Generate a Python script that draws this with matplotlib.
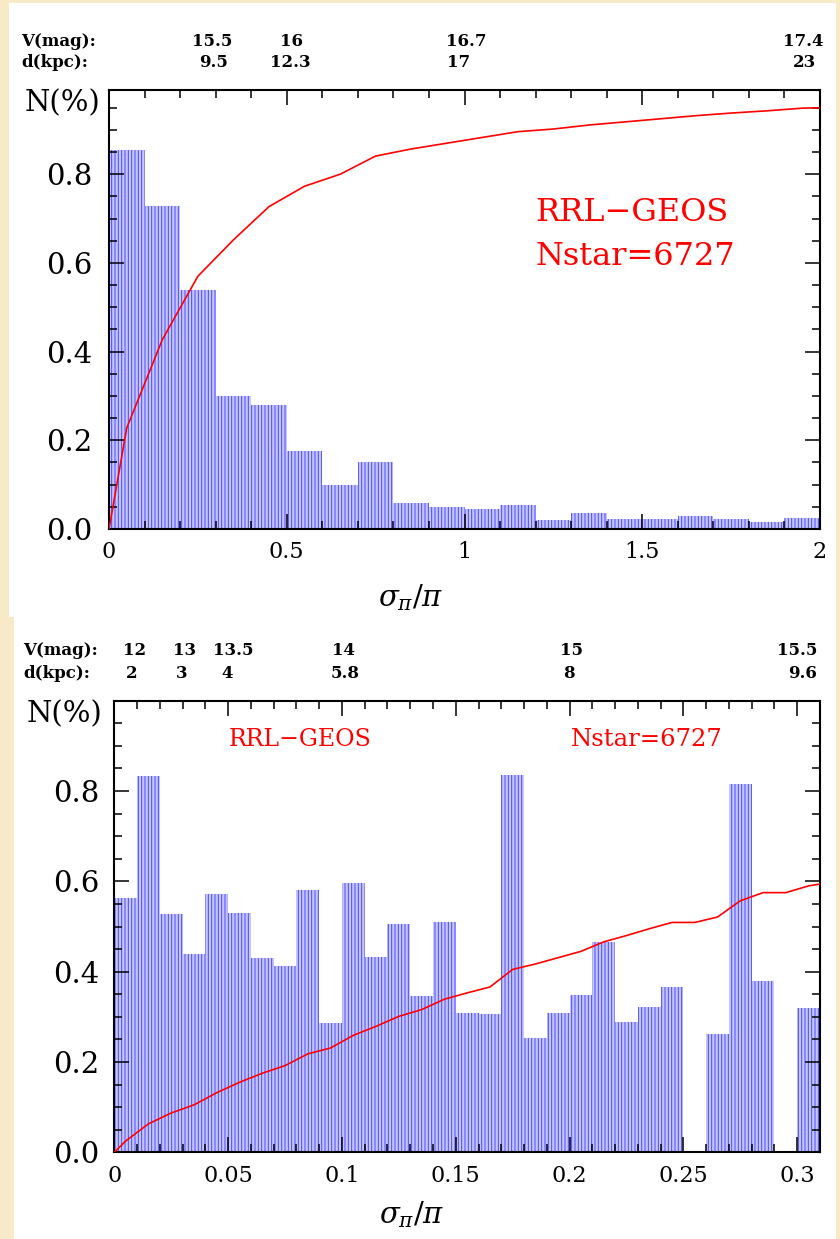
import numpy as np
import matplotlib
matplotlib.use("Agg")
import matplotlib.pyplot as plt
from matplotlib.patches import Rectangle
from matplotlib.ticker import MultipleLocator
from matplotlib.transforms import blended_transform_factory

# ---- data ----
# top panel: sigma_pi/pi from 0 to 2, bins of 0.1
top_edges = [0.0, 0.1, 0.2, 0.3, 0.4, 0.5, 0.6, 0.7, 0.8, 0.9, 1.0,
             1.1, 1.2, 1.3, 1.4, 1.5, 1.6, 1.7, 1.8, 1.9, 2.0]
top_hist = [0.855, 0.728, 0.538, 0.301, 0.279, 0.177, 0.099, 0.151, 0.058, 0.050,
            0.045, 0.054, 0.020, 0.037, 0.023, 0.022, 0.029, 0.022, 0.016, 0.024]
top_cum_x = [0.0, 0.05, 0.15, 0.25, 0.35, 0.45, 0.55, 0.65, 0.75, 0.85, 0.95,
             1.05, 1.15, 1.25, 1.35, 1.45, 1.55, 1.65, 1.75, 1.85, 1.95, 2.0]
top_cum_y = [0.0, 0.228, 0.427, 0.570, 0.652, 0.727, 0.773, 0.800, 0.841, 0.857, 0.870,
             0.883, 0.896, 0.902, 0.911, 0.918, 0.925, 0.932, 0.938, 0.943, 0.949, 0.950]

# bottom panel: sigma_pi/pi from 0 to 0.31, bins of 0.01
bot_edges = [round(0.01 * i, 2) for i in range(32)]
bot_hist = [0.564, 0.834, 0.527, 0.438, 0.573, 0.530, 0.430, 0.413, 0.581, 0.286,
            0.596, 0.432, 0.506, 0.345, 0.511, 0.309, 0.306, 0.835, 0.252, 0.309,
            0.348, 0.465, 0.289, 0.321, 0.365, 0.0, 0.262, 0.815, 0.379, 0.0, 0.319]
bot_cum_x = [0.0, 0.005, 0.015, 0.025, 0.035, 0.045, 0.055, 0.065, 0.075, 0.085, 0.095,
             0.105, 0.115, 0.125, 0.135, 0.145, 0.155, 0.165, 0.175, 0.185, 0.195,
             0.205, 0.215, 0.225, 0.235, 0.245, 0.255, 0.265, 0.275, 0.285, 0.295,
             0.305, 0.31]
bot_cum_y = [0.0, 0.025, 0.063, 0.087, 0.105, 0.132, 0.155, 0.175, 0.192, 0.218, 0.231,
             0.259, 0.279, 0.301, 0.316, 0.339, 0.353, 0.366, 0.405, 0.417, 0.431,
             0.445, 0.466, 0.480, 0.495, 0.509, 0.509, 0.521, 0.557, 0.575, 0.575,
             0.590, 0.594]

# V magnitude / distance scale printed above each panel
top_vmag = ["15.5", "16", "16.7", "17.4"]
top_vmag_x = [0.289, 0.514, 1.006, 1.952]
top_dkpc = ["9.5", "12.3", "17", "23"]
top_dkpc_x = [0.293, 0.511, 0.982, 1.956]
bot_vmag = ["12", "13", "13.5", "14", "15", "15.5"]
bot_vmag_x = [0.0087, 0.0307, 0.0522, 0.1006, 0.2008, 0.2998]
bot_dkpc = ["2", "3", "4", "5.8", "8", "9.6"]
bot_dkpc_x = [0.0078, 0.0298, 0.0496, 0.1014, 0.1995, 0.3024]

W, H = 840, 1239
plt.rcParams['font.family'] = ['DejaVu Serif']
plt.rcParams['mathtext.fontset'] = 'dejavuserif'
plt.rcParams['hatch.linewidth'] = 0.7

fig = plt.figure(figsize=(W / 100, H / 100), dpi=100, facecolor='#f8eac6')

# white paper behind each panel
fig.patches.append(Rectangle((9 / W, 1 - 617 / H), (836 - 9) / W, (617 - 3) / H,
                             transform=fig.transFigure, facecolor='white', edgecolor='none', zorder=-5))
fig.patches.append(Rectangle((14 / W, 0), (836 - 14) / W, 1 - 617 / H,
                             transform=fig.transFigure, facecolor='white', edgecolor='none', zorder=-5))


def px_box(x0, y0, x1, y1):
    return [x0 / W, 1 - y1 / H, (x1 - x0) / W, (y1 - y0) / H]


def panel(box, edges, hist, cx, cy, xlim, ylim, xmaj, xmin_, xticklabels, ypad):
    ax = fig.add_axes(box)
    ax.set_facecolor('none')
    e = np.array(edges)
    ax.bar(e[:-1], hist, width=np.diff(e), align='edge', facecolor='#c6c6ff',
           edgecolor='#4848ff', linewidth=0, hatch='|||||', zorder=1)
    ax.plot(cx, cy, color='#ff0000', lw=1.2, zorder=3)
    ax.set_xlim(*xlim)
    ax.set_ylim(*ylim)
    ax.xaxis.set_major_locator(MultipleLocator(xmaj))
    ax.xaxis.set_minor_locator(MultipleLocator(xmin_))
    ax.yaxis.set_major_locator(MultipleLocator(0.2))
    ax.yaxis.set_minor_locator(MultipleLocator(0.05))
    ax.set_xticks(xticklabels[0])
    ax.set_xticklabels(xticklabels[1])
    ax.set_yticks([0.0, 0.2, 0.4, 0.6, 0.8])
    ax.set_yticklabels(['0.0', '0.2', '0.4', '0.6', '0.8'])
    ax.tick_params(which='both', direction='in', top=True, right=True, color='black')
    ax.tick_params(which='major', length=11, width=1.1)
    ax.tick_params(which='minor', length=5.5, width=1.1)
    ax.tick_params(axis='y', labelsize=21, pad=ypad)
    ax.tick_params(axis='x', labelsize=16, pad=9)
    for s in ax.spines.values():
        s.set_linewidth(1.5)
    ax.set_axisbelow(False)
    return ax


ax1 = panel(px_box(109, 90, 820, 529), top_edges, top_hist, top_cum_x, top_cum_y,
            (0, 2), (0, 0.99), 0.5, 0.1,
            ([0, 0.5, 1, 1.5, 2], ['0', '0.5', '1', '1.5', '2']), 12)
ax2 = panel(px_box(114.3, 700.7, 820, 1152.3), bot_edges, bot_hist, bot_cum_x, bot_cum_y,
            (0, 0.31), (0, 1.0), 0.05, 0.01,
            ([0, 0.05, 0.1, 0.15, 0.2, 0.25, 0.3], ['0', '0.05', '0.1', '0.15', '0.2', '0.25', '0.3']), 11)

# red annotations
ax1.text(1.2, 0.714, 'RRL\u2212GEOS', color='#ff0000', fontsize=23, va='center', ha='left')
ax1.text(1.2, 0.615, 'Nstar=6727', color='#ff0000', fontsize=23, va='center', ha='left')
ax2.text(0.0504, 0.915, 'RRL\u2212GEOS', color='#ff0000', fontsize=17, va='center', ha='left')
ax2.text(0.2007, 0.915, 'Nstar=6727', color='#ff0000', fontsize=17.5, va='center', ha='left')

# axis titles
fig.text(62 / W, 1 - 103 / H, 'N(%)', fontsize=21, ha='center', va='center')
fig.text(64 / W, 1 - 714 / H, 'N(%)', fontsize=21, ha='center', va='center')
fig.text(411 / W, 1 - 598 / H, r'$\sigma_{\pi}/\pi$', fontsize=21, ha='center', va='center')
fig.text(412 / W, 1 - 1215 / H, r'$\sigma_{\pi}/\pi$', fontsize=21, ha='center', va='center')

# magnitude / distance rows
for ax, vl, vx, dl, dx, yv, yd, xlab in [
        (ax1, top_vmag, top_vmag_x, top_dkpc, top_dkpc_x, 41, 62.5, 21),
        (ax2, bot_vmag, bot_vmag_x, bot_dkpc, bot_dkpc_x, 650.7, 673, 23)]:
    tr = blended_transform_factory(ax.transData, fig.transFigure)
    fig.text(xlab / W, 1 - yv / H, 'V(mag):', fontsize=12, fontweight='bold', va='center', ha='left')
    fig.text(xlab / W, 1 - yd / H, 'd(kpc):', fontsize=12, fontweight='bold', va='center', ha='left')
    for lab, x in zip(vl, vx):
        ax.text(x, 1 - yv / H, lab, transform=tr, fontsize=12, fontweight='bold', ha='center', va='center')
    for lab, x in zip(dl, dx):
        ax.text(x, 1 - yd / H, lab, transform=tr, fontsize=12, fontweight='bold', ha='center', va='center')

fig.savefig('out.png', dpi=100, facecolor=fig.get_facecolor())
